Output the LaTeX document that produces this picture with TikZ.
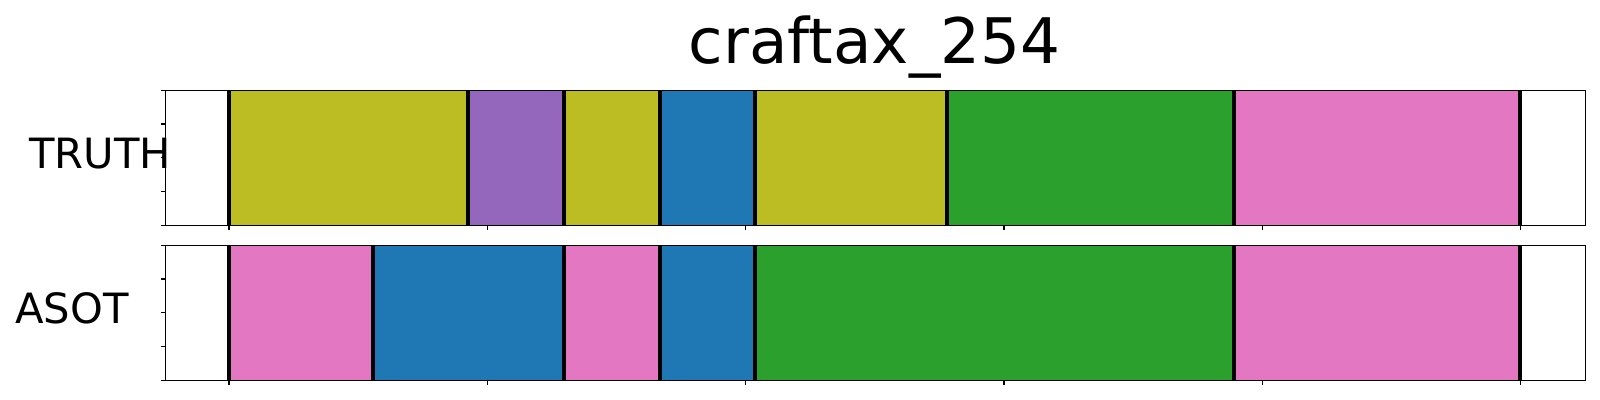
\documentclass[tikz,border=0pt]{standalone}
\usepackage{fontspec}
\setmainfont{DejaVu Sans}
\definecolor{segOlive}{HTML}{BCBD22}
\definecolor{segPurple}{HTML}{9467BD}
\definecolor{segBlue}{HTML}{1F77B4}
\definecolor{segGreen}{HTML}{2CA02C}
\definecolor{segPink}{HTML}{E377C2}
\tikzset{
  bound/.style={line width=2pt, black},
  axisframe/.style={line width=0.55pt, black},
  tickmark/.style={line width=0.55pt, black},
  lbl/.style={inner sep=0pt, font=\fontsize{20.85pt}{25pt}\selectfont},
  ttl/.style={inner sep=0pt, font=\fontsize{31.4pt}{38pt}\selectfont}
}
\begin{document}
\begin{tikzpicture}[x=0.5pt,y=-0.5pt]
\useasboundingbox (0,0) rectangle (1600,400);
% TRUTH segments
\foreach \a/\b/\c in {229/468/segOlive,468/564/segPurple,564/660/segOlive,660/755/segBlue,755/947/segOlive,947/1234/segGreen,1234/1520/segPink}
  \fill[\c] (\a,90.3) rectangle (\b,225.3);
\foreach \x in {229,468,564,660,755,947,1234,1520}
  \draw[bound] (\x,90.3) -- (\x,225.3);
% ASOT segments
\foreach \a/\b/\c in {229/373.2/segPink,373.2/564/segBlue,564/660/segPink,660/755/segBlue,755/1234/segGreen,1234/1520/segPink}
  \fill[\c] (\a,245.3) rectangle (\b,380.3);
\foreach \x in {229,373.2,564,660,755,1234,1520}
  \draw[bound] (\x,245.3) -- (\x,380.3);
% frames
\draw[axisframe] (165.7,90.3) rectangle (1585.7,225.3);
\draw[axisframe] (165.7,245.3) rectangle (1585.7,380.3);
% y ticks
\foreach \y in {90.3,124,157.8,191.5,225.3,245.3,279,312.8,346.5,380.3}
  \draw[tickmark] (160.8,\y) -- (165.7,\y);
% x ticks
\foreach \x in {229,487.3,745.7,1004,1262.3,1520.6}{
  \draw[tickmark] (\x,225.3) -- (\x,230.2);
  \draw[tickmark] (\x,380.3) -- (\x,385.2);
}
% labels
\node[ttl, anchor=base] (title) at (874.5,63.3) {craftax\_254};
\node[lbl, anchor=base west] (truth) at (29,169) {TRUTH};
\node[lbl, anchor=base west] (asot) at (15,323.5) {ASOT};
\end{tikzpicture}
\end{document}
